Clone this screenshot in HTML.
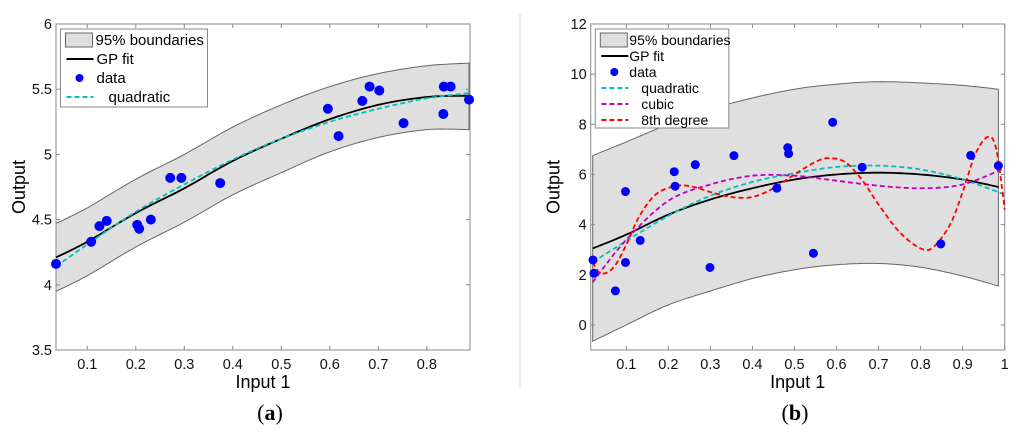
<!DOCTYPE html>
<html><head><meta charset="utf-8"><style>
body{margin:0;background:#fff;}
svg text{font-family:"Liberation Sans",sans-serif;}
</style></head><body>
<svg id="s" width="1024" height="433" xmlns="http://www.w3.org/2000/svg">
<line x1="520" y1="14" x2="520" y2="388" stroke="#e6e6e6" stroke-width="1.5"/>
<text x="270" y="420" font-size="22" text-anchor="middle" style="font-family:'Liberation Serif',serif">(<tspan font-weight="bold">a</tspan>)</text>
<text x="795" y="420" font-size="22" text-anchor="middle" style="font-family:'Liberation Serif',serif">(<tspan font-weight="bold">b</tspan>)</text>
</svg>
<script>
// ---- Panel A data ----
const aDataX=[0.0355,0.108,0.125,0.140,0.203,0.207,0.231,0.271,0.294,0.374,0.596,0.618,0.667,0.682,0.702,0.752,0.834,0.835,0.849,0.887];
const aDataY=[4.16,4.33,4.45,4.49,4.46,4.43,4.50,4.82,4.82,4.78,5.35,5.14,5.41,5.52,5.49,5.24,5.31,5.52,5.52,5.42];
const aCurveX=[0.0355,0.1,0.2,0.3,0.4,0.5,0.6,0.7,0.8,0.887];
const aGP=[4.21,4.33,4.55,4.74,4.95,5.12,5.27,5.38,5.44,5.45];
const aUpper=[4.47,4.59,4.81,5.0,5.21,5.38,5.52,5.62,5.68,5.70];
const aLower=[3.95,4.07,4.29,4.48,4.69,4.86,5.02,5.13,5.19,5.19];
const aQuad=[4.14,4.31,4.56,4.77,4.96,5.12,5.25,5.35,5.43,5.47];
const aXTicks=[0.1,0.2,0.3,0.4,0.5,0.6,0.7,0.8];
const aYTicks=[3.5,4,4.5,5,5.5,6];
// ---- Panel B data ----
const bDataX=[0.0207,0.023,0.074,0.098,0.098,0.133,0.214,0.216,0.264,0.299,0.356,0.458,0.484,0.486,0.545,0.591,0.661,0.848,0.919,0.985];
const bDataY=[2.59,2.06,1.36,5.32,2.49,3.37,6.11,5.53,6.39,2.29,6.75,5.45,7.07,6.83,2.86,8.08,6.29,3.23,6.76,6.35];
const bBandX=[0.02,0.1,0.2,0.3,0.4,0.5,0.6,0.7,0.8,0.9,0.985];
const bGP=[3.05,3.6,4.4,5.0,5.45,5.8,6.0,6.07,6.0,5.8,5.5];
const bUpper=[6.75,7.3,8.0,8.6,9.05,9.4,9.6,9.7,9.65,9.55,9.4];
const bLower=[-0.65,0,0.8,1.35,1.85,2.2,2.4,2.45,2.3,1.95,1.55];
const bPolyX=[0.02,0.1,0.2,0.3,0.4,0.5,0.6,0.7,0.8,0.9,1.0];
const bQuad=[2.5,3.35,4.35,5.15,5.7,6.05,6.3,6.35,6.2,5.8,5.2];
const bCubic=[1.7,3.4,4.95,5.6,5.95,5.95,5.75,5.55,5.45,5.6,6.25];
const b8X=[0.02,0.04,0.07,0.1,0.13,0.17,0.22,0.26,0.3,0.35,0.4,0.45,0.5,0.55,0.58,0.62,0.66,0.7,0.75,0.8,0.83,0.87,0.9,0.93,0.96,0.98,1.0];
const b8Y=[2.5,2.05,2.3,3.2,4.3,5.2,5.55,5.5,5.3,5.1,5.1,5.45,6.0,6.5,6.65,6.5,5.8,4.8,3.7,3.05,3.1,4.0,5.3,6.8,7.5,7.0,4.6];
const bXTicks=[0.1,0.2,0.3,0.4,0.5,0.6,0.7,0.8,0.9,1];
const bYTicks=[0,2,4,6,8,10,12];

const S=document.getElementById('s');
const NS='http://www.w3.org/2000/svg';
function mk(tag,attrs,parent){const e=document.createElementNS(NS,tag);for(const k in attrs)e.setAttribute(k,attrs[k]);(parent||S).appendChild(e);return e;}
function smooth(xs,ys,sx,sy){const pts=[];for(let i=0;i<xs.length-1;i++){const p0=i>0?i-1:i,p3=i+2<xs.length?i+2:i+1;for(let t=0;t<1;t+=0.1){const t2=t*t,t3=t2*t;const f=(a,b,c,d)=>0.5*((2*b)+(-a+c)*t+(2*a-5*b+4*c-d)*t2+(-a+3*b-3*c+d)*t3);pts.push([sx(f(xs[p0],xs[i],xs[i+1],xs[p3])),sy(f(ys[p0],ys[i],ys[i+1],ys[p3]))]);}}pts.push([sx(xs[xs.length-1]),sy(ys[ys.length-1])]);return pts;}
const toD=p=>p.map((q,i)=>(i?'L':'M')+q[0].toFixed(1)+','+q[1].toFixed(1)).join('');

function panel(cfg){
 const {L,R,T,B,x0,x1,y0,y1}=cfg;
 const sx=v=>L+(v-x0)/(x1-x0)*(R-L), sy=v=>B-(v-y0)/(y1-y0)*(B-T);
 const g=mk('g',{});
 
 
 const up=smooth(cfg.bandX,cfg.upper,sx,sy), lo=smooth(cfg.bandX,cfg.lower,sx,sy);
 const band=mk('path',{d:toD(up)+'L'+lo.slice().reverse().map(q=>q[0].toFixed(1)+','+q[1].toFixed(1)).join('L')+'Z',fill:'#dfdfdf',stroke:'#666','stroke-width':1},g);
 
 
 const box=mk('rect',{x:L,y:T,width:R-L,height:B-T,fill:'none',stroke:'#888','stroke-width':1},g);
 
 
 cfg.xt.forEach(v=>{const x=sx(v);mk('line',{x1:x,x2:x,y1:B,y2:B-4,stroke:'#888'},g);mk('line',{x1:x,x2:x,y1:T,y2:T+4,stroke:'#888'},g);
  const t=mk('text',{x:x,y:B+19,'font-size':14.5,'text-anchor':'middle',fill:'#111'},g);t.textContent=String(v);
  
  });
 cfg.yt.forEach(v=>{const y=sy(v);mk('line',{x1:L,x2:L+4,y1:y,y2:y,stroke:'#888'},g);mk('line',{x1:R,x2:R-4,y1:y,y2:y,stroke:'#888'},g);
  const t=mk('text',{x:L-4,y:y+5,'font-size':14.5,'text-anchor':'end',fill:'#111'},g);t.textContent=String(v);
  
  });
 const xl=mk('text',{x:(L+R)/2,y:B+38,'font-size':18,'text-anchor':'middle'},g);xl.textContent='Input 1';
 
 
 const yl=mk('text',{x:0,y:0,'font-size':18,'text-anchor':'middle',transform:`translate(${L-31},${(T+B)/2}) rotate(-90)`},g);yl.textContent='Output';
 
 
 cfg.lines.forEach(ln=>{const p=mk('path',{d:toD(smooth(ln.x,ln.y,sx,sy)),fill:'none',stroke:ln.c,'stroke-width':ln.w||1.8,'stroke-dasharray':ln.dash||''},g);
  
  });
 cfg.dx.forEach((v,i)=>{const c=mk('circle',{cx:sx(v),cy:sy(cfg.dy[i]),r:cfg.r,fill:'#0000ff'},g);
  
  });
 const lg=cfg.leg;const lgG=mk('g',{},g);
 
 
 mk('rect',{x:lg.x,y:lg.y,width:lg.w,height:lg.h,fill:'#fff',stroke:'#888'},lgG);
 lg.items.forEach((it,i)=>{const cy=lg.y+11+i*lg.step;
  if(it.t==='band')mk('rect',{x:lg.x+5,y:cy-7,width:27,height:14,fill:'#dfdfdf',stroke:'#666'},lgG);
  else if(it.t==='dot')mk('circle',{cx:lg.x+19,cy:cy,r:4,fill:'#0000ff'},lgG);
  else mk('line',{x1:lg.x+6,x2:lg.x+33,y1:cy,y2:cy,stroke:it.c,'stroke-width':2,'stroke-dasharray':it.dash||''},lgG);
  const t=mk('text',{x:lg.x+it.tx,y:cy+5,'font-size':lg.fs},lgG);t.textContent=it.label;
  
  });
}
panel({name:'chart-a',L:56,R:470,T:24,B:350,x0:0.0355,x1:0.889,y0:3.5,y1:6,xt:aXTicks,yt:aYTicks,r:5,
 bandX:aCurveX,upper:aUpper,lower:aLower,dx:aDataX,dy:aDataY,
 lines:[{x:aCurveX,y:aGP,c:'#000',n:'gp-fit-line'},{x:aCurveX,y:aQuad,c:'#00bfbf',dash:'5,3',n:'quadratic-line'}],
 leg:{x:60.5,y:29,w:147,h:78,step:19,fs:15,items:[{t:'band',label:'95% boundaries',tx:35},{t:'line',c:'#000',label:'GP fit',tx:36},{t:'dot',label:'data',tx:36},{t:'line',c:'#00bfbf',dash:'5,3',label:'quadratic',tx:48}]}});
panel({name:'chart-b',L:590.7,R:1004.7,T:24,B:350,x0:0.0153,x1:1,y0:-1,y1:12,xt:bXTicks,yt:bYTicks,r:4.5,
 bandX:bBandX,upper:bUpper,lower:bLower,dx:bDataX,dy:bDataY,
 lines:[{x:bBandX,y:bGP,c:'#000',n:'gp-fit-line'},{x:bPolyX,y:bQuad,c:'#00bfbf',dash:'5,3',n:'quadratic-line'},{x:bPolyX,y:bCubic,c:'#bf00bf',dash:'5,3',n:'cubic-line'},{x:b8X,y:b8Y,c:'#ff0000',dash:'5,3',n:'eighth-degree-line'}],
 leg:{x:595.3,y:29,w:133.5,h:99,step:16,fs:14,items:[{t:'band',label:'95% boundaries',tx:34},{t:'line',c:'#000',label:'GP fit',tx:34},{t:'dot',label:'data',tx:34},{t:'line',c:'#00bfbf',dash:'5,3',label:'quadratic',tx:46},{t:'line',c:'#bf00bf',dash:'5,3',label:'cubic',tx:46},{t:'line',c:'#ff0000',dash:'5,3',label:'8th degree',tx:46}]}});
</script>
</body></html>
